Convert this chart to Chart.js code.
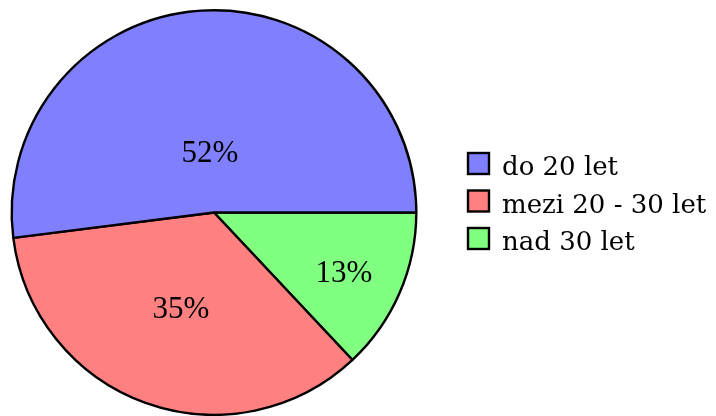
<!DOCTYPE html>
<html lang="cs">
<head>
<meta charset="UTF-8">
<title>Věk</title>
<script src="https://cdn.jsdelivr.net/npm/chart.js@4/dist/chart.umd.min.js"></script>
<style>
  html, body { margin: 0; padding: 0; background: #fff; }
  #wrap { position: relative; width: 716px; height: 416px; }
</style>
</head>
<body>
<div id="wrap"><canvas id="chart" width="716" height="416"></canvas></div>
<script>
// Daten (Reihenfolge wie in der Legende)
const categories = ['do 20 let', 'mezi 20 - 30 let', 'nad 30 let'];
const shares     = [52, 35, 13];
const colors     = ['#8080ff', '#ff8080', '#80ff80'];

// Kuchen läuft gegen den Uhrzeigersinn ab 3 Uhr -> für Chart.js umdrehen
const order = categories.map((_, i) => i).reverse();

// Prozent-Beschriftung in den Segmenten (Radius wie bei pgf-pie)
const sliceLabels = {
  id: 'sliceLabels',
  afterDatasetsDraw(chart) {
    const ctx = chart.ctx;
    const meta = chart.getDatasetMeta(0);
    ctx.save();
    ctx.fillStyle = '#000';
    ctx.font = '31px "Liberation Serif", serif';
    ctx.textAlign = 'center';
    ctx.textBaseline = 'alphabetic';
    meta.data.forEach((arc, i) => {
      const span = (arc.endAngle - arc.startAngle) * 180 / Math.PI;
      const f = Math.max(Math.min((span - 10) / 110 * -0.3, 0), -0.5) + 0.8;
      const mid = (arc.startAngle + arc.endAngle) / 2;
      const r = f * arc.outerRadius;
      const x = arc.x + Math.cos(mid) * r;
      const y = arc.y + Math.sin(mid) * r;
      const v = chart.data.datasets[0].data[i];
      ctx.fillText(v + '%', x, y + 13);
    });
    ctx.restore();
  }
};

// Legende rechts, eigene Zeichnung
const sideLegend = {
  id: 'sideLegend',
  afterDraw(chart) {
    const ctx = chart.ctx;
    const x0 = 468, base0 = 175, step = 37.5, box = 21;
    ctx.save();
    ctx.font = '26px "DejaVu Serif", serif';
    ctx.textBaseline = 'alphabetic';
    ctx.textAlign = 'left';
    categories.forEach((name, i) => {
      const base = base0 + i * step;
      const y = base - 22;
      ctx.fillStyle = colors[i];
      ctx.fillRect(x0, y, box, box);
      ctx.lineWidth = 2.4;
      ctx.strokeStyle = '#000';
      ctx.strokeRect(x0, y, box, box);
      ctx.fillStyle = '#000';
      ctx.fillText(name, 502, base);
    });
    ctx.restore();
  }
};

new Chart(document.getElementById('chart'), {
  type: 'pie',
  plugins: [sliceLabels, sideLegend],
  data: {
    labels: order.map(i => categories[i]),
    datasets: [{
      data: order.map(i => shares[i]),
      backgroundColor: order.map(i => colors[i]),
      borderColor: '#000',
      borderWidth: 2.4,
    }]
  },
  options: {
    responsive: false,
    animation: false,
    rotation: 90,
    layout: { padding: { left: 10, top: 9, right: 298, bottom: 0 } },
    plugins: {
      legend: { display: false },
      tooltip: { enabled: false },
    }
  }
});
</script>
</body>
</html>
